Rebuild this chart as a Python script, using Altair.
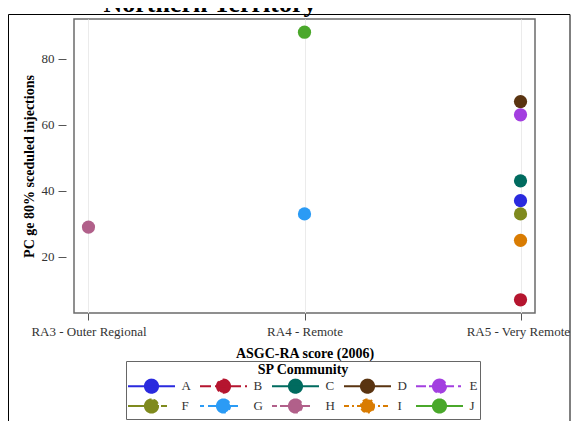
import math
import altair as alt
import pandas as pd

# ---- data ----
groups = ["A", "B", "C", "D", "E", "F", "G", "H", "I", "J"]
categories = ["RA3 - Outer Regional", "RA4 - Remote", "RA5 - Very Remote"]
group_category = ["RA5 - Very Remote", "RA5 - Very Remote", "RA5 - Very Remote",
                  "RA5 - Very Remote", "RA5 - Very Remote", "RA5 - Very Remote",
                  "RA4 - Remote", "RA3 - Outer Regional", "RA5 - Very Remote",
                  "RA4 - Remote"]
group_values = [37, 7, 43, 67, 63, 33, 33, 29, 25, 88]
y_ticks = [20, 40, 60, 80]

colors = ["#2a2ade", "#b5152f", "#006b5f", "#5a3411", "#a33fe0",
          "#7f8a1e", "#2b9bf5", "#b1608a", "#d97c02", "#4aa82b"]
dashes = [[1, 0], [11, 4], [1, 0], [1, 0], [10, 3, 25, 4, 3, 10],
          [31, 2, 6, 20], [4, 4, 30, 20], [5, 3, 30, 20], [5, 3, 2, 3], [1, 0]]

df = pd.DataFrame({"group": groups, "category": group_category, "value": group_values})

SERIF = "Liberation Serif"
LAST = categories[-1]

# legend symbol: a wide line with a dot in the middle (path spans [-3, 3] horizontally)
K = 3.0
r = 0.84
pts = [(r * math.cos(2 * math.pi * k / 28), r * math.sin(2 * math.pi * k / 28)) for k in range(28)]
sym_path = f"M{-K},0L{K},0M" + "L".join(f"{x:.3f},{y:.3f}" for x, y in pts) + "Z"
sym_size = (47.0 / K) ** 2

legend = alt.Legend(
    title="SP Community", orient="none", legendX=52, legendY=342,
    direction="horizontal", columns=5,
    titleFont=SERIF, titleFontSize=14, titleFontWeight="bold", titleColor="black",
    titleAnchor="middle", titleAlign="center", titlePadding=0,
    labelFont=SERIF, labelFontSize=13, labelColor="#333333", labelOffset=21,
    symbolType=sym_path, symbolSize=sym_size, symbolStrokeWidth=2, symbolOffset=14.5,
    columnPadding=5, rowPadding=-3, padding=2, gridAlign="all",
    strokeColor="#666666", fillColor="white",
)

fill_scale = alt.Scale(domain=groups, range=colors)
dash_scale = alt.Scale(domain=groups, range=dashes)

points = alt.Chart(df).mark_point(filled=True, size=175, strokeWidth=0, opacity=1).encode(
    x=alt.X("category:N", sort=categories,
            scale=alt.Scale(domain=categories, type="point", padding=0.067),
            axis=alt.Axis(title="ASGC-RA score (2006)", labelAngle=0, grid=True,
                          gridColor="#ebebeb", domain=False, tickColor="#555555",
                          tickSize=7, labelPadding=5, titlePadding=8,
                          labelAlign={"condition": {"test": f"datum.value === '{LAST}'", "value": "right"},
                                      "value": "center"},
                          labelOffset={"condition": {"test": f"datum.value === '{LAST}'", "value": 49},
                                       "value": 0},
                          labelFont=SERIF, labelFontSize=13, labelColor="#333333",
                          titleFont=SERIF, titleFontSize=14, titleFontWeight="bold",
                          titleColor="black")),
    y=alt.Y("value:Q", scale=alt.Scale(domain=[3, 92], nice=False, zero=False),
            axis=alt.Axis(title="PC ge 80% sceduled injections", values=y_ticks,
                          grid=False, domain=False, tickColor="#555555", tickSize=8,
                          offset=8, labelPadding=4, titlePadding=5,
                          labelFont=SERIF, labelFontSize=13, labelColor="#333333",
                          titleFont=SERIF, titleFontSize=14, titleFontWeight="bold",
                          titleColor="black")),
    fill=alt.Fill("group:N", scale=fill_scale, legend=legend),
    stroke=alt.Stroke("group:N", scale=fill_scale, legend=legend),
    strokeDash=alt.StrokeDash("group:N", scale=dash_scale, legend=legend),
    order=alt.Order("order:Q"),
).transform_calculate(order="indexof(['A','B','C','D','E','F','G','H','I','J'], datum.group)")

blank = pd.DataFrame({"t": ["Northern Territory"]})

title = alt.Chart(blank).mark_text(
    font=SERIF, fontSize=26, fontWeight="bold", color="black",
    align="center", baseline="alphabetic",
).encode(text="t:N", x=alt.value(136), y=alt.value(-7.5))

frame = alt.Chart(blank).mark_rect(
    fillOpacity=0, stroke="black", strokeWidth=1,
).encode(x=alt.value(-65.5), x2=alt.value(496), y=alt.value(-4.5), y2=alt.value(440))

chart = alt.layer(points, title, frame).properties(
    width=461, height=294,
    padding={"left": 66, "top": 11, "right": 36, "bottom": 108},
    autosize=alt.AutoSizeParams(type="none"),
).configure(background="white").configure_view(stroke="#6b6b6b", strokeWidth=1.5)

chart.save("out.html", embed_options={"renderer": "svg", "actions": False})
